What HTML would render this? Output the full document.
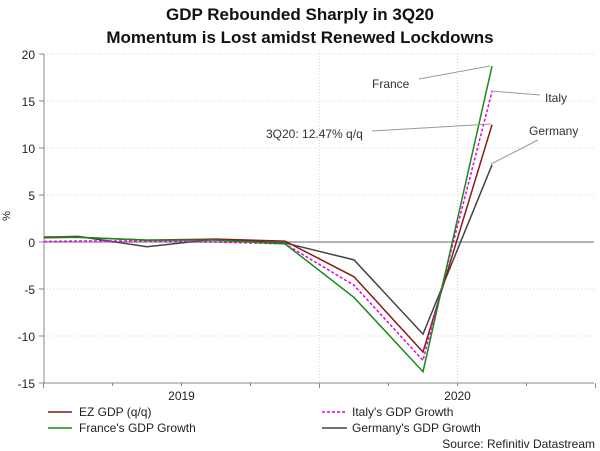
<!DOCTYPE html>
<html><head><meta charset="utf-8"><style>
body{margin:0;background:#fff;}
svg{display:block;font-family:"Liberation Sans",sans-serif;}
</style></head><body>
<svg width="600" height="451" viewBox="0 0 600 451">
<text x="300" y="20" text-anchor="middle" font-size="17" font-weight="bold" fill="#111">GDP Rebounded Sharply in 3Q20</text>
<text x="300" y="43" text-anchor="middle" font-size="17" font-weight="bold" fill="#111">Momentum is Lost amidst Renewed Lockdowns</text>
<g id="grid"></g>
<g id="axes"></g>
<defs><clipPath id="pc"><rect x="44" y="50" width="550" height="340"/></clipPath></defs>
<g id="series" clip-path="url(#pc)"></g>
<g font-size="12" fill="#333">
<line x1="419" y1="79" x2="490" y2="66" stroke="#999"/>
<text x="372" y="88">France</text>
<line x1="540" y1="95" x2="491" y2="91" stroke="#999"/>
<text x="545" y="102">Italy</text>
<line x1="538" y1="140" x2="491" y2="164" stroke="#999"/>
<text x="529" y="135">Germany</text>
<line x1="372" y1="131" x2="491" y2="124" stroke="#999"/>
<text x="266" y="138">3Q20: 12.47% q/q</text>
</g>
<g font-size="12" fill="#222">
<line x1="48" y1="412" x2="72" y2="412" stroke="#8b1a1a" stroke-width="1.5"/>
<text x="79" y="416">EZ GDP (q/q)</text>
<line x1="322" y1="412" x2="347" y2="412" stroke="#e600e6" stroke-width="1.5" stroke-dasharray="3,2"/>
<text x="352" y="416">Italy's GDP Growth</text>
<line x1="48" y1="428" x2="72" y2="428" stroke="#1a8a1a" stroke-width="1.5"/>
<text x="79" y="432">France's GDP Growth</text>
<line x1="322" y1="428" x2="347" y2="428" stroke="#444" stroke-width="1.5"/>
<text x="352" y="432">Germany's GDP Growth</text>
</g>
<text x="595" y="448" text-anchor="end" font-size="12" fill="#222">Source: Refinitiv Datastream</text>
</svg>
<script>
const quarters=[-1,0,1,2,3,4,5,6];
const ezValues=[0.4,0.5,0.2,0.3,0.1,-3.7,-11.7,12.47];
const franceValues=[0.6,0.5,0.2,0.2,-0.2,-5.9,-13.8,18.7];
const italyValues=[0.0,0.1,0.1,0.0,-0.2,-4.6,-12.6,16.0];
const germanyValues=[0.4,0.6,-0.5,0.3,-0.1,-1.9,-9.8,8.2];
const yTicks=[20,15,10,5,0,-5,-10,-15];
const yearLabels=["2019","2020"];
const NS="http://www.w3.org/2000/svg";
const x=q=>43.5+69*(q+0.5);
const y=v=>242-v*9.4;
function mk(t,a,p){const e=document.createElementNS(NS,t);for(const k in a)e.setAttribute(k,a[k]);p.appendChild(e);return e;}
const grid=document.getElementById('grid'),axes=document.getElementById('axes'),ser=document.getElementById('series');
yTicks.forEach(v=>{
 if(v!==-15&&v!==0){const l=mk('line',{x1:44,x2:594,y1:y(v),y2:y(v),stroke:'#cde0a8','stroke-dasharray':'1,2'},grid);
 
 }
 const tk=mk('line',{x1:39,x2:44,y1:y(v),y2:y(v),stroke:'#888'},axes);
 
 
 const t=mk('text',{x:35,y:y(v)+5,'text-anchor':'end','font-size':12,fill:'#222'},axes);t.textContent=v;
 
 
});
[4,6].forEach(q=>{const l=mk('line',{x1:x(q-0.5),x2:x(q-0.5),y1:50,y2:383,stroke:'#cde0a8','stroke-dasharray':'1,2'},grid);
 
 });
const zl=mk('line',{x1:44,x2:594,y1:y(0),y2:y(0),stroke:'#999','stroke-width':1.5},axes);


const ya=mk('line',{x1:44,x2:44,y1:54,y2:384,stroke:'#888'},axes);


const xa=mk('line',{x1:44,x2:594,y1:y(-15),y2:y(-15),stroke:'#888'},axes);


for(let q=0;q<=8;q++){const big=q%4===0;const l=mk('line',{x1:x(q-0.5),x2:x(q-0.5),y1:y(-15),y2:y(-15)+(big?5:3),stroke:'#888'},axes);
 
 }
yearLabels.forEach((s,i)=>{const t=mk('text',{x:x(4*i+1.5),y:400,'text-anchor':'middle','font-size':12,fill:'#222'},axes);t.textContent=s;
 
 });
const yt=mk('text',{x:10,y:216,'text-anchor':'middle','font-size':11,fill:'#222',transform:'rotate(-90 10 216)'},axes);yt.textContent='%';


function line(vals,color,name,dash){const d=vals.map((v,i)=>(i?'L':'M')+x(quarters[i])+','+y(v)).join(' ');
 const p=mk('path',{d:d,fill:'none',stroke:color,'stroke-width':1.5},ser);if(dash)p.setAttribute('stroke-dasharray',dash);
 
 }
line(germanyValues,'#444','germany-line');
line(ezValues,'#8b1a1a','ez-line');
line(italyValues,'#e600e6','italy-line','3,2');
line(franceValues,'#1a8a1a','france-line');
</script>
</body></html>
